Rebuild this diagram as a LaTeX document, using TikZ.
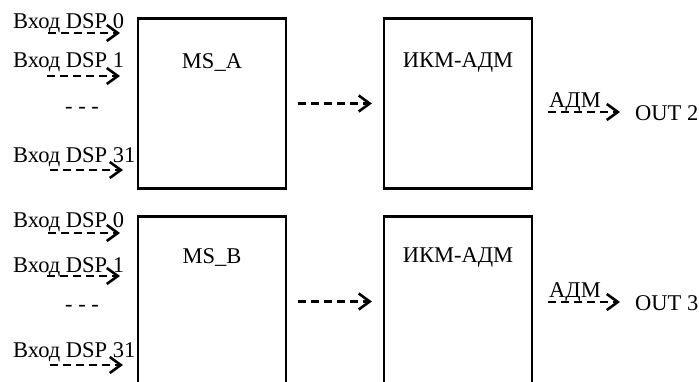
\documentclass[tikz,border=0pt]{standalone}
\usepackage{fontspec}
\setmainfont{Liberation Serif}
\usetikzlibrary{arrows.meta,positioning}

\begin{document}
\begin{tikzpicture}[x=1pt, y=-1pt,
    every node/.style={font=\fontsize{22.5}{27}\selectfont, inner sep=0pt},
    blk/.style={draw, line width=2.2pt, minimum width=148pt, minimum height=170pt},
    sig/.style={line width=2.6pt, dash pattern=on 8pt off 5pt,
      -{Straight Barb[length=11pt, width=16pt, line width=2.6pt]}}]
  \clip (0,0) rectangle (699,381);

  % Upper channel: MS_A -> ИКМ-АДМ
  \node[blk] (msA) at (212,103.5) {};
  \node[blk] (ikmA) at (458,103.5) {};
  \node (msAt) at (212,62) {MS\_A};
  \node (ikmAt) at (458,62) {ИКМ-АДМ};

  % inputs of MS_A
  \node[anchor=base west] (inA0) at (13,28) {Вход DSP 0};
  \node[anchor=base west] (inA1) at (13,67) {Вход DSP 1};
  \node (dotsA) at (82,110) {- - -};
  \node[anchor=base west] (inA31) at (13,162) {Вход DSP 31};
  \coordinate (a0) at (48,33);
  \coordinate (a1) at (47,76);
  \coordinate (a31) at (50,170);
  \draw[sig] (a0) -- ++(72,0);
  \draw[sig] (a1) -- ++(73,0);
  \draw[sig] (a31) -- ++(73,0);

  \draw[sig, shorten <=11pt, shorten >=11pt] (msA) -- (ikmA);

  % output 2
  \node[anchor=base] (admA) at (575,107) {АДМ};
  \node[anchor=base west] (outA) at (635,120) {OUT 2};
  \coordinate (oA) at (548,112);
  \draw[sig] (oA) -- ++(72,0);

  % Lower channel: MS_B -> ИКМ-АДМ
  \node[blk] (msB) at (212,301.5) {};
  \node[blk] (ikmB) at (458,301.5) {};
  \node (msBt) at (212,257) {MS\_B};
  \node (ikmBt) at (458,257) {ИКМ-АДМ};

  % inputs of MS_B
  \node[anchor=base west] (inB0) at (13,227) {Вход DSP 0};
  \node[anchor=base west] (inB1) at (13,272) {Вход DSP 1};
  \node (dotsB) at (82,308) {- - -};
  \node[anchor=base west] (inB31) at (13,357) {Вход DSP 31};
  \coordinate (b0) at (48,233);
  \coordinate (b1) at (47,276);
  \coordinate (b31) at (50,365);
  \draw[sig] (b0) -- ++(72,0);
  \draw[sig] (b1) -- ++(73,0);
  \draw[sig] (b31) -- ++(73,0);

  \draw[sig, shorten <=11pt, shorten >=11pt] (msB) -- (ikmB);

  % output 3
  \node[anchor=base] (admB) at (575,297) {АДМ};
  \node[anchor=base west] (outB) at (635,310) {OUT 3};
  \coordinate (oB) at (548,302);
  \draw[sig] (oB) -- ++(72,0);
\end{tikzpicture}
\end{document}
